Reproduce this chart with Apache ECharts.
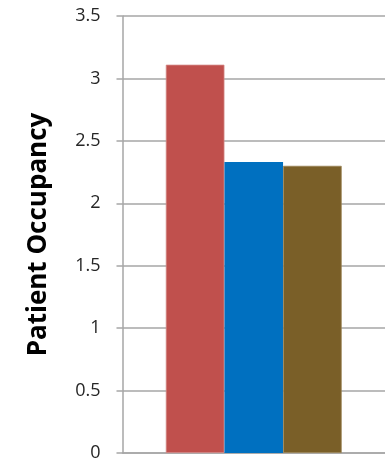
<!DOCTYPE html>
<html><head><meta charset="utf-8">
<script src="https://cdn.jsdelivr.net/npm/echarts@6/dist/echarts.min.js"></script>
<style>html,body{margin:0;padding:0;background:#fff}#c{width:385px;height:462px}</style>
</head><body><div id="c"></div>
<script>
const categories = [''];
const seriesNames = ['A', 'B', 'C'];
const seriesValues = [[3.11], [2.33], [2.30]];
const seriesColors = ['#C0504D', '#0070C0', '#7A5F28'];
const yTicks = [0, 0.5, 1, 1.5, 2, 2.5, 3, 3.5];

const chart = echarts.init(document.getElementById('c'));
chart.setOption({
  animation: false,
  grid: {left: 122.5, right: 0, top: 16, bottom: 6.5, containLabel: false},
  xAxis: {
    type: 'category', data: categories,
    axisLine: {lineStyle: {color: '#A6A6A6', width: 1.5}},
    axisTick: {show: false}, axisLabel: {show: false}
  },
  yAxis: {
    type: 'value', min: 0, max: 3.5, interval: 0.5,
    name: 'Patient Occupancy', nameLocation: 'middle', nameGap: 71,
    nameTextStyle: {fontFamily: 'Open Sans', fontWeight: 'bold', fontSize: 26, color: '#000'},
    axisLine: {show: true, lineStyle: {color: '#A6A6A6', width: 1.5}},
    axisTick: {show: true, length: 6, inside: false, lineStyle: {color: '#A6A6A6', width: 1.5}},
    splitLine: {lineStyle: {color: '#A6A6A6', width: 1.5}},
    axisLabel: {margin: 22, fontFamily: 'Open Sans', fontSize: 18, color: '#262626',
      formatter: v => yTicks.includes(v) ? String(v) : ''}
  },
  series: seriesNames.map((n, i) => ({
    name: n, type: 'bar', data: seriesValues[i],
    barGap: '0%', barCategoryGap: '33%',
    itemStyle: {color: seriesColors[i], borderColor: i === 0 ? '#D38885' : (i === 2 ? '#9A8456' : seriesColors[i]), borderWidth: i === 1 ? 0 : 0.8}
  }))
});
</script></body></html>
